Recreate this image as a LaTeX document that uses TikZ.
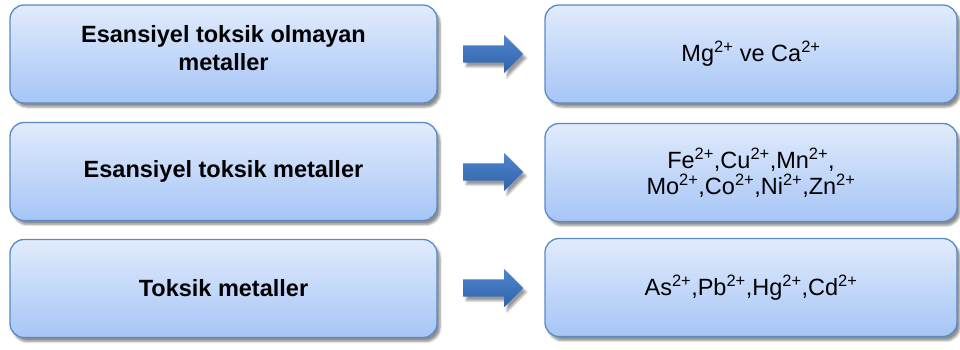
\documentclass[tikz,border=0pt]{standalone}
\usepackage{fontspec}
\setmainfont{Liberation Sans}
\usetikzlibrary{shapes.arrows,shadows.blur,calc}

\definecolor{boxtop}{HTML}{E1EBFC}
\definecolor{boxbot}{HTML}{A6C5F6}
\definecolor{boxline}{HTML}{5A8AC6}
\definecolor{arrtop}{HTML}{4F86CF}
\definecolor{arrbot}{HTML}{2F62A8}

\tikzset{
  metalbox/.style={draw=boxline, line width=1.3pt, rounded corners=14pt,
    top color=boxtop, bottom color=boxbot, align=center, inner sep=0pt,
    blur shadow={shadow xshift=3pt, shadow yshift=-4pt, shadow blur steps=6, shadow opacity=45}},
  groupbox/.style={metalbox, minimum width=427pt, minimum height=98pt,
    font=\fontsize{23.5}{28}\selectfont\bfseries},
  ionbox/.style={metalbox, minimum width=412pt, minimum height=98pt,
    font=\fontsize{23.5}{26}\selectfont},
  blockarrow/.style={single arrow, draw=none, top color=arrtop, bottom color=arrbot,
    minimum height=60pt, minimum width=38pt, inner xsep=0pt, inner ysep=8.5pt,
    single arrow head extend=10.5pt, single arrow tip angle=90,
    blur shadow={shadow xshift=3pt, shadow yshift=-4pt, shadow blur steps=4, shadow opacity=40}}
}

\begin{document}
\begin{tikzpicture}[x=1pt, y=-1pt]
  \useasboundingbox (0,0) rectangle (960,349);

  % left column
  \node[groupbox, text depth=12pt] (l1) at (223.5,54) {Esansiyel toksik olmayan\\metaller};
  \node[groupbox] (l2) at (223.5,171.5) {Esansiyel toksik metaller};
  \node[groupbox] (l3) at (223.5,288.5) {Toksik metaller};

  % right column
  \node[ionbox] (r1) at (751,54) {Mg\textsuperscript{2+} ve Ca\textsuperscript{2+}};
  \node[ionbox] (r2) at (751,172.5) {Fe\textsuperscript{2+},Cu\textsuperscript{2+},Mn\textsuperscript{2+},\\Mo\textsuperscript{2+},Co\textsuperscript{2+},Ni\textsuperscript{2+},Zn\textsuperscript{2+}};
  \node[ionbox] (r3) at (751,287.5) {As\textsuperscript{2+},Pb\textsuperscript{2+},Hg\textsuperscript{2+},Cd\textsuperscript{2+}};

  % arrows between
  \node[blockarrow] (a1) at ($(l1.east)!0.48!(r1.west)$) {};
  \node[blockarrow] (a2) at ($(l2.east)!0.48!(r2.west)$) {};
  \node[blockarrow] (a3) at ($(l3.east)!0.48!(r3.west)$) {};
\end{tikzpicture}
\end{document}
